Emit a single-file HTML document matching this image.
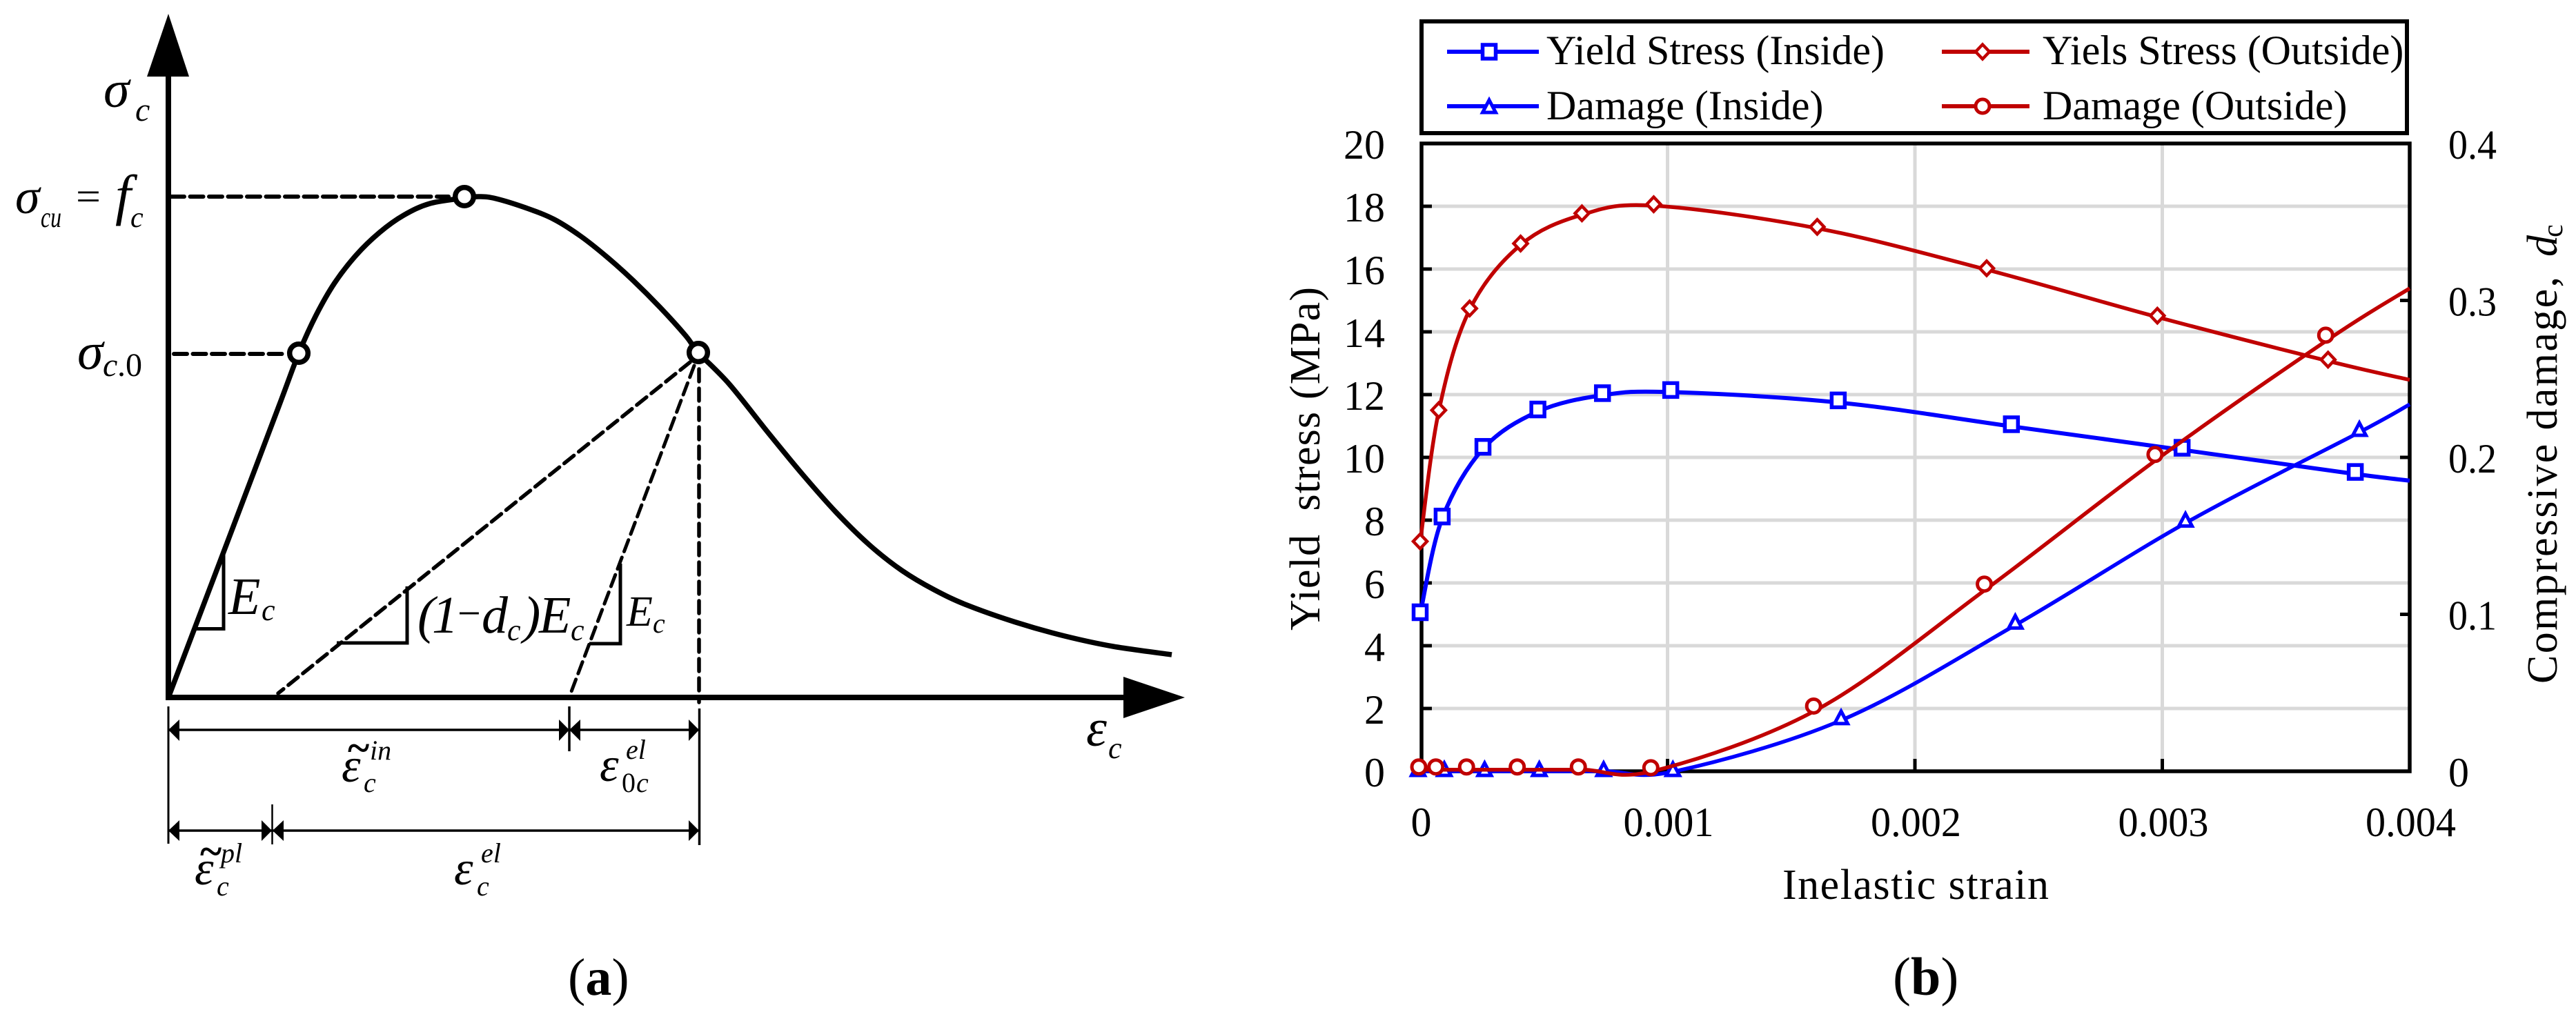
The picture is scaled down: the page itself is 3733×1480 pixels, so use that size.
<!DOCTYPE html>
<html lang="en">
<head>
<meta charset="utf-8">
<title>Concrete compressive behaviour and damage curves</title>
<style>
html,body{margin:0;padding:0;background:#fff;width:3733px;height:1480px;overflow:hidden}
svg{display:block}
text{font-family:"Liberation Serif",serif;fill:#000}
.i{font-style:italic}
</style>
</head>
<body>
<svg id="figure" xmlns="http://www.w3.org/2000/svg" width="3733" height="1480" viewBox="0 0 3733 1480">
<rect width="3733" height="1480" fill="#fff"/>

<g id="panel-a">
  <line x1="244" y1="108" x2="244" y2="1015" stroke="#000" stroke-width="8"/>
  <polygon points="244,20 213,111 274,111" fill="#000"/>
  <line x1="240" y1="1011" x2="1632" y2="1011" stroke="#000" stroke-width="8"/>
  <polygon points="1717,1011 1628,981 1628,1041" fill="#000"/>

  <line x1="248" y1="285" x2="650" y2="285" stroke="#000" stroke-width="6" stroke-dasharray="19 8.5" stroke-linecap="round"/>
  <line x1="252" y1="513" x2="412" y2="513" stroke="#000" stroke-width="6" stroke-dasharray="19 8.5" stroke-linecap="round"/>
  <line x1="1000" y1="525" x2="403" y2="1005" stroke="#000" stroke-width="5.5" stroke-dasharray="18 9" stroke-linecap="round"/>
  <line x1="1006" y1="530" x2="827" y2="1005" stroke="#000" stroke-width="5" stroke-dasharray="18 9" stroke-linecap="round"/>
  <line x1="1013" y1="535" x2="1013" y2="1018" stroke="#000" stroke-width="5.5" stroke-dasharray="18 10" stroke-linecap="round"/>

  <path d="M324,800 V911.5 H285" fill="none" stroke="#000" stroke-width="5"/>
  <path d="M590,850 V932 H488" fill="none" stroke="#000" stroke-width="5"/>
  <path d="M899,817 V933 H854" fill="none" stroke="#000" stroke-width="5"/>

  <g stroke="#000" fill="none">
    <line x1="244" y1="1024" x2="244" y2="1223" stroke-width="3"/>
    <line x1="825" y1="1024" x2="825" y2="1089" stroke-width="3.5"/>
    <line x1="1013.5" y1="1027" x2="1013.5" y2="1225" stroke-width="3.5"/>
    <line x1="394.5" y1="1166" x2="394.5" y2="1224" stroke-width="2.5"/>
    <line x1="244" y1="1058" x2="1013" y2="1058" stroke-width="3.5"/>
    <line x1="244" y1="1204" x2="1013" y2="1204" stroke-width="3.5"/>
  </g>
  <g fill="#000">
    <polygon points="244,1058 260,1043 260,1074"/>
    <polygon points="825,1058 810,1043 810,1074"/>
    <polygon points="825,1058 841,1043 841,1074"/>
    <polygon points="1013,1058 998,1043 998,1074"/>
    <polygon points="244,1204 260,1189 260,1219"/>
    <polygon points="394,1204 379,1189 379,1219"/>
    <polygon points="395,1204 411,1189 411,1219"/>
    <polygon points="1013,1204 998,1189 998,1219"/>
  </g>

  <g id="schematic-curve"></g>

  <g>
    <text class="i" x="150" y="155" font-size="76">σ</text>
    <text class="i" x="196" y="175" font-size="48">c</text>
  </g>
  <g>
    <text class="i" x="22" y="309" font-size="72">σ</text>
    <text class="i" x="59" y="329" font-size="42" textLength="30" lengthAdjust="spacingAndGlyphs">cu</text>
    <text x="110" y="304" font-size="58" textLength="36" lengthAdjust="spacingAndGlyphs">=</text>
    <text class="i" x="167" y="310" font-size="82">f</text>
    <text class="i" x="189" y="329" font-size="42">c</text>
  </g>
  <g>
    <text class="i" x="112" y="535" font-size="76">σ</text>
    <text class="i" x="149" y="545" font-size="48">c</text>
    <text x="170" y="545" font-size="48">.0</text>
  </g>
  <g>
    <text class="i" x="331" y="890" font-size="76">E</text>
    <text class="i" x="379" y="899" font-size="44">c</text>
  </g>
  <g>
    <text class="i" x="605" y="917" font-size="76">(</text>
    <text class="i" x="626" y="917" font-size="76">1</text>
    <text x="663" y="909" font-size="60">−</text>
    <text class="i" x="698" y="917" font-size="76">d</text>
    <text class="i" x="735" y="928" font-size="44">c</text>
    <text class="i" x="758" y="917" font-size="76">)</text>
    <text class="i" x="781" y="917" font-size="76">E</text>
    <text class="i" x="827" y="928" font-size="44">c</text>
  </g>
  <g>
    <text class="i" x="908" y="907" font-size="62">E</text>
    <text class="i" x="946" y="917" font-size="40">c</text>
  </g>
  <g>
    <text class="i" x="1574" y="1081" font-size="76">ε</text>
    <text class="i" x="1606" y="1099" font-size="44">c</text>
  </g>
  <g>
    <text class="i" x="495" y="1133" font-size="70">ε</text>
    <text x="504" y="1104" font-size="60" font-weight="bold">~</text>
    <text class="i" x="527" y="1148" font-size="40">c</text>
    <text class="i" x="536" y="1101" font-size="40">in</text>
  </g>
  <g>
    <text class="i" x="869" y="1132" font-size="70">ε</text>
    <text class="i" x="907" y="1100" font-size="40">el</text>
    <text x="901" y="1148" font-size="40">0</text>
    <text class="i" x="922" y="1148" font-size="40">c</text>
  </g>
  <g>
    <text class="i" x="282" y="1282" font-size="70">ε</text>
    <text x="290" y="1254" font-size="60" font-weight="bold">~</text>
    <text class="i" x="314" y="1298" font-size="40">c</text>
    <text class="i" x="320" y="1250" font-size="40">pl</text>
  </g>
  <g>
    <text class="i" x="658" y="1282" font-size="70">ε</text>
    <text class="i" x="691" y="1298" font-size="40">c</text>
    <text class="i" x="697" y="1250" font-size="40">el</text>
  </g>
  <text x="823" y="1442" font-size="76">(<tspan font-weight="bold">a</tspan>)</text>
</g>

<g id="panel-b">
  <g id="grid"></g>
  <rect x="2060" y="208" width="1432" height="910" fill="none" stroke="#000" stroke-width="5.5"/>
  <g id="ticks"></g>
  <g id="series"></g>

  <rect x="2060" y="31" width="1428" height="162" fill="#fff" stroke="#000" stroke-width="6"/>
  <g id="legend"></g>

  <text x="2583" y="1303" font-size="62" textLength="386">Inelastic strain</text>
  <text x="1912" y="914" font-size="62" textLength="498" transform="rotate(-90 1912 914)" xml:space="preserve">Yield  stress (MPa)</text>
  <g>
    <text x="3705" y="991" font-size="62" textLength="590" transform="rotate(-90 3705 991)">Compressive damage,</text>
    <text class="i" x="3705" y="372" font-size="62" transform="rotate(-90 3705 372)">d</text>
    <text x="3713" y="344" font-size="42" transform="rotate(-90 3713 344)">c</text>
  </g>
  <text x="2743" y="1442" font-size="78">(<tspan font-weight="bold">b</tspan>)</text>
</g>
</svg>

<script>
// ---- Panel (b) values ----
const strainTicks = [0, 0.001, 0.002, 0.003, 0.004];
const strainTickLabels = ['0', '0.001', '0.002', '0.003', '0.004'];
const stressTicks = [0, 2, 4, 6, 8, 10, 12, 14, 16, 18, 20];
const stressTickLabels = ['0', '2', '4', '6', '8', '10', '12', '14', '16', '18', '20'];
const damageTicks = [0, 0.1, 0.2, 0.3, 0.4];
const damageTickLabels = ['0', '0.1', '0.2', '0.3', '0.4'];

const yieldInsideStrain = [0, 0.000089, 0.000254, 0.000476, 0.000737, 0.001013, 0.00169, 0.00239, 0.00308, 0.00378, 0.004];
const yieldInsideStress = [5.0, 8.05, 10.27, 11.46, 11.98, 12.08, 11.75, 10.99, 10.24, 9.47, 9.26];

const yieldOutsideStrain = [0, 0.000075, 0.0002, 0.000406, 0.000654, 0.000944, 0.001605, 0.00229, 0.00298, 0.00367, 0.004];
const yieldOutsideStress = [7.28, 11.46, 14.7, 16.77, 17.73, 18.02, 17.3, 15.98, 14.47, 13.07, 12.47];

const damageInsideStrain = [0, 0.000106, 0.000269, 0.00049, 0.00075, 0.00103, 0.00171, 0.002414, 0.003102, 0.003805, 0.004];
const damageInsideValue = [0, 0, 0, 0, 0, 0, 0.033, 0.0939, 0.1589, 0.2167, 0.2338];

const damageOutsideStrain = [0.000014, 0.000083, 0.000207, 0.000412, 0.000659, 0.000952, 0.00161, 0.0023, 0.00299, 0.00368, 0.004];
const damageOutsideValue = [0.001, 0.001, 0.001, 0.001, 0.001, 0.0005, 0.0398, 0.1175, 0.2001, 0.2761, 0.3077];

const legendLabels = ['Yield Stress (Inside)', 'Yiels Stress (Outside)', 'Damage (Inside)', 'Damage (Outside)'];

// ---- Panel (a) schematic values (arbitrary strain / stress units) ----
const schematicStrain = [0, 9.45, 16, 18.9, 21.4, 24.1, 27.2, 30.6, 34.1, 37.9, 42.9, 45.2, 47.5, 52, 55.9, 59.7, 63.5, 67.4, 71.2, 75, 76.8, 81.3, 86.9, 92.1, 96.8, 101.6, 106.3, 111, 115.7, 122.8, 129.9, 136.9, 145.4];
const schematicStress = [0, 24.9, 42.2, 49.9, 55.4, 60.1, 64.1, 67.4, 69.9, 71.6, 72.4, 72.6, 72.3, 70.9, 69.3, 66.9, 63.9, 60.4, 56.6, 52.4, 50, 45.4, 38.4, 32.1, 26.8, 22.1, 18.4, 15.6, 13.4, 10.9, 8.9, 7.4, 6.2];
const schematicMarkerStrain = [18.9, 42.9, 76.8];
const schematicMarkerStress = [49.9, 72.6, 50];

// ---- Axis functions ----
const xStrain = v => 2058 + v * 358500;
const yStress = v => 1118 - v * 45.5;
const yDamage = v => 1118 - v * 2275;
const xSchematic = v => 244 + v * 10;
const ySchematic = v => 1011 - v * 10;

const NS = 'http://www.w3.org/2000/svg';
function make(tag, attrs, parent) {
  const node = document.createElementNS(NS, tag);
  for (const k in attrs) node.setAttribute(k, attrs[k]);
  parent.appendChild(node);
  return node;
}
function smoothPath(xs, ys) {
  let d = 'M' + xs[0].toFixed(1) + ',' + ys[0].toFixed(1);
  const n = xs.length;
  for (let i = 0; i < n - 1; i++) {
    const i0 = Math.max(0, i - 1), i3 = Math.min(n - 1, i + 2);
    const c1x = xs[i] + (xs[i + 1] - xs[i0]) / 6, c1y = ys[i] + (ys[i + 1] - ys[i0]) / 6;
    const c2x = xs[i + 1] - (xs[i3] - xs[i]) / 6, c2y = ys[i + 1] - (ys[i3] - ys[i]) / 6;
    d += 'C' + c1x.toFixed(1) + ',' + c1y.toFixed(1) + ' ' + c2x.toFixed(1) + ',' + c2y.toFixed(1) + ' ' + xs[i + 1].toFixed(1) + ',' + ys[i + 1].toFixed(1);
  }
  return d;
}
function markerShape(shape, cx, cy, color, parent) {
  const base = { fill: '#fff', stroke: color, 'stroke-linejoin': 'miter' };
  if (shape === 'square') {
    return make('rect', Object.assign(base, { x: cx - 9.5, y: cy - 10, width: 19, height: 20, 'stroke-width': 5.5 }), parent);
  }
  if (shape === 'diamond') {
    return make('polygon', Object.assign(base, { points: cx + ',' + (cy - 10.5) + ' ' + (cx + 10) + ',' + cy + ' ' + cx + ',' + (cy + 10.5) + ' ' + (cx - 10) + ',' + cy, 'stroke-width': 4.5 }), parent);
  }
  if (shape === 'triangle') {
    return make('polygon', Object.assign(base, { points: cx + ',' + (cy - 9) + ' ' + (cx + 9.5) + ',' + (cy + 9) + ' ' + (cx - 9.5) + ',' + (cy + 9), 'stroke-width': 5 }), parent);
  }
  return make('circle', Object.assign(base, { cx: cx, cy: cy, r: 10, 'stroke-width': 5 }), parent);
}

// ---- Panel (a) curve ----
const curveGroup = document.getElementById('schematic-curve');
const curvePath = make('path', {
  d: smoothPath(schematicStrain.map(xSchematic), schematicStress.map(ySchematic)),
  fill: 'none', stroke: '#000', 'stroke-width': 7.5, 'stroke-linejoin': 'round'
}, curveGroup);


schematicMarkerStrain.forEach((s, i) => {
  const dot = make('circle', {
    cx: xSchematic(s), cy: ySchematic(schematicMarkerStress[i]), r: 13.3,
    fill: '#fff', stroke: '#000', 'stroke-width': 7.5
  }, curveGroup);
  
  
});

// ---- Panel (b) grid and ticks ----
const gridGroup = document.getElementById('grid');
const tickGroup = document.getElementById('ticks');
stressTicks.forEach((v, i) => {
  if (v > 0 && v < 20) {
    const g = make('line', { x1: 2060, x2: 3492, y1: yStress(v), y2: yStress(v), stroke: '#d9d9d9', 'stroke-width': 5 }, gridGroup);
    
    
    const t = make('line', { x1: 2060, x2: 2075, y1: yStress(v), y2: yStress(v), stroke: '#000', 'stroke-width': 5 }, tickGroup);
    
    
  }
  const label = make('text', { x: 2007, y: yStress(v) + 22, 'font-size': 60, 'text-anchor': 'end' }, tickGroup);
  
  
  label.textContent = stressTickLabels[i];
});
strainTicks.forEach((v, i) => {
  if (v > 0 && v < 0.004) {
    const g = make('line', { x1: xStrain(v), x2: xStrain(v), y1: 208, y2: 1118, stroke: '#d9d9d9', 'stroke-width': 5 }, gridGroup);
    
    
    const t = make('line', { x1: xStrain(v), x2: xStrain(v), y1: 1100, y2: 1118, stroke: '#000', 'stroke-width': 5 }, tickGroup);
    
    
  }
  const attrs = { x: xStrain(v) + 1.5, y: 1212, 'font-size': 60, 'text-anchor': 'middle' };
  if (strainTickLabels[i].length > 1) { attrs.textLength = 131; attrs.lengthAdjust = 'spacingAndGlyphs'; }
  const label = make('text', attrs, tickGroup);
  
  
  label.textContent = strainTickLabels[i];
});
damageTicks.forEach((v, i) => {
  if (v > 0 && v < 0.4) {
    const t = make('line', { x1: 3478, x2: 3492, y1: yDamage(v), y2: yDamage(v), stroke: '#000', 'stroke-width': 5 }, tickGroup);
    
    
  }
  const attrs = { x: 3548, y: yDamage(v) + 22, 'font-size': 60 };
  if (damageTickLabels[i].length > 1) { attrs.textLength = 70; attrs.lengthAdjust = 'spacingAndGlyphs'; }
  const label = make('text', attrs, tickGroup);
  
  
  label.textContent = damageTickLabels[i];
});

// ---- Panel (b) series ----
const seriesGroup = document.getElementById('series');
function drawSeries(name, strain, values, yFn, color, width, shape, dx, dy) {
  const group = make('g', {}, seriesGroup);
  
  
  const line = make('path', {
    d: smoothPath(strain.map(xStrain), values.map(yFn)),
    fill: 'none', stroke: color, 'stroke-width': width
  }, group);
  
  
  strain.forEach((s, i) => {
    if (s >= 0.004) return;
    const m = markerShape(shape, xStrain(s) + dx, yFn(values[i]) + dy, color, group);
    
    
  });
}
drawSeries('yield-stress-inside', yieldInsideStrain, yieldInsideStress, yStress, '#0000ff', 6, 'square', 0, -3);
drawSeries('damage-inside', damageInsideStrain, damageInsideValue, yDamage, '#0000ff', 5.5, 'triangle', -3, -3);
drawSeries('yield-stress-outside', yieldOutsideStrain, yieldOutsideStress, yStress, '#c00000', 5.5, 'diamond', 0, -2);
drawSeries('damage-outside', damageOutsideStrain, damageOutsideValue, yDamage, '#c00000', 5.5, 'circle', -7, -4);

// ---- Legend ----
const legendGroup = document.getElementById('legend');
const legendColors = ['#0000ff', '#c00000', '#0000ff', '#c00000'];
const legendShapes = ['square', 'diamond', 'triangle', 'circle'];
legendLabels.forEach((text, i) => {
  const col = i % 2, row = Math.floor(i / 2);
  const entry = make('g', {}, legendGroup);
  
  
  const y = row === 0 ? 75 : 154;
  const x1 = col === 0 ? 2097 : 2814;
  const x2 = col === 0 ? 2230 : 2941;
  const mx = col === 0 ? 2158 : 2873;
  const sample = make('line', { x1: x1, x2: x2, y1: y, y2: y, stroke: legendColors[i], 'stroke-width': 6 }, entry);
  
  
  const mark = markerShape(legendShapes[i], mx, y, legendColors[i], entry);
  
  
  const label = make('text', { x: col === 0 ? 2241 : 2960, y: row === 0 ? 93 : 173, 'font-size': 60 }, entry);
  
  
  label.textContent = text;
});
</script>
</body>
</html>
